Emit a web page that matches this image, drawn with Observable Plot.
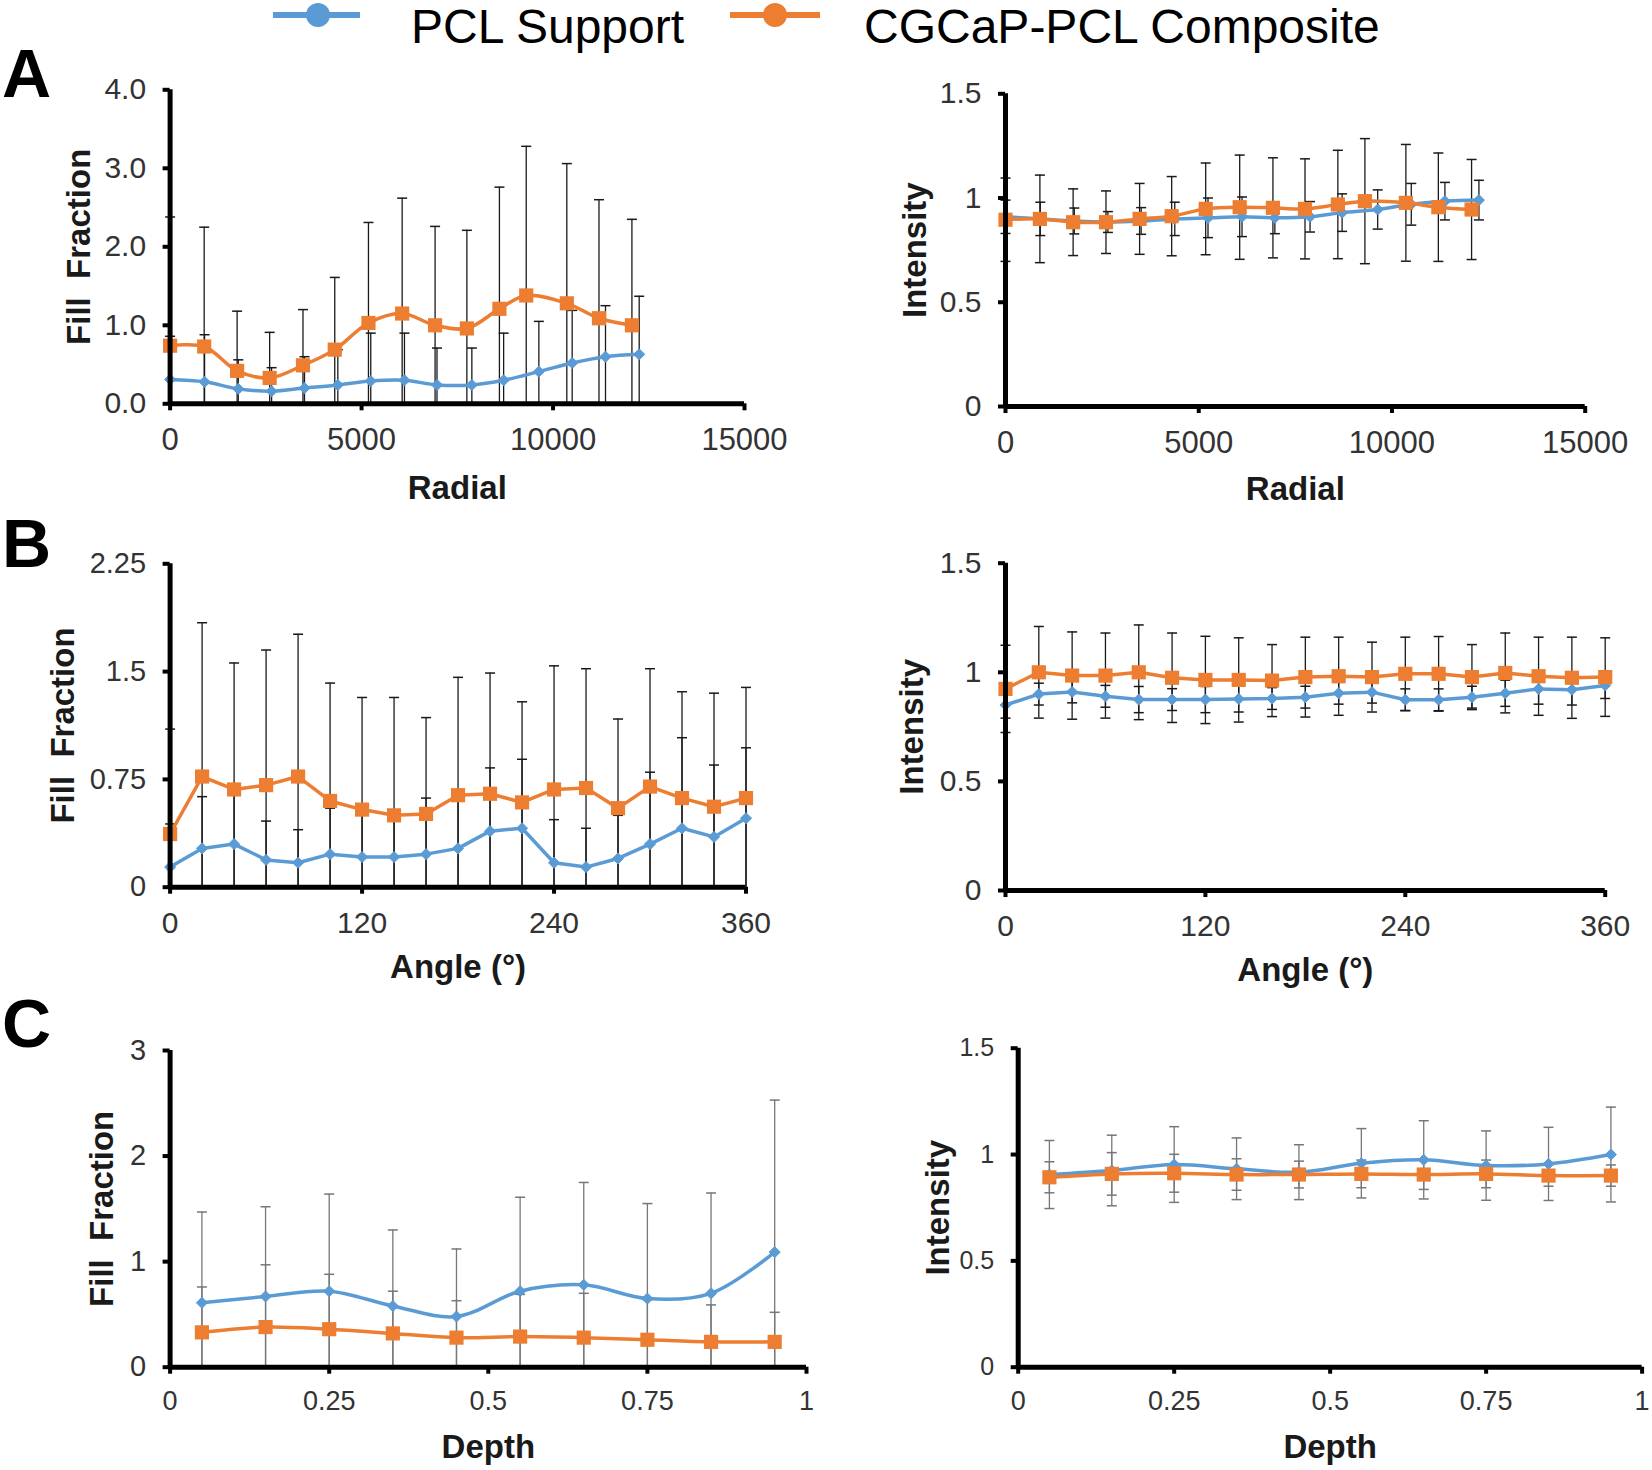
<!DOCTYPE html>
<html>
<head>
<meta charset="utf-8">
<script src="https://cdn.jsdelivr.net/npm/d3@7"></script>
<script src="https://cdn.jsdelivr.net/npm/@observablehq/plot@0.6"></script>
<style>
  html, body { margin: 0; padding: 0; background: #fff; }
  #root { position: relative; width: 1652px; height: 1470px; overflow: hidden; background: #fff;
          font-family: "Liberation Sans", Arial, sans-serif; }
  .panel-label { position: absolute; font-weight: bold; font-size: 68px; line-height: 68px; color: #000; }
  .leg-text { position: absolute; font-size: 48px; line-height: 36px; color: #000; white-space: nowrap; }
  .leg-line { position: absolute; height: 6px; }
  .leg-dot { position: absolute; width: 24px; height: 24px; border-radius: 50%; }
</style>
</head>
<body>
<div id="root"></div>
<script>
// ---------------- DATA ----------------
const seriesNames = ["PCL Support", "CGCaP-PCL Composite"];
const panelLetters = ["A", "B", "C"];

// Panel A : radial position
const radialXBlue   = [0, 900, 1780, 2650, 3510, 4380, 5240, 6120, 6970, 7880, 8710, 9630, 10500, 11370, 12250];
const radialXOrange = [0, 890, 1750, 2600, 3470, 4300, 5180, 6060, 6920, 7750, 8600, 9300, 10360, 11200, 12060];
const radialFillBlue     = [0.31, 0.28, 0.19, 0.16, 0.20, 0.24, 0.29, 0.30, 0.24, 0.24, 0.30, 0.41, 0.52, 0.60, 0.63];
const radialFillBlueSd   = [0.55, 0.60, 0.37, 0.30, 0.40, 0.45, 0.61, 0.60, 0.47, 0.47, 0.60, 0.64, 0.67, 0.65, 0.74];
const radialFillOrange   = [0.74, 0.73, 0.42, 0.33, 0.49, 0.69, 1.03, 1.15, 1.00, 0.96, 1.21, 1.38, 1.28, 1.09, 1.00];
const radialFillOrangeSd = [1.64, 1.52, 0.76, 0.58, 0.71, 0.92, 1.28, 1.47, 1.26, 1.25, 1.55, 1.90, 1.78, 1.51, 1.35];
const radialIntBlue      = [0.91, 0.90, 0.89, 0.885, 0.89, 0.90, 0.905, 0.91, 0.905, 0.91, 0.93, 0.945, 0.97, 0.985, 0.99];
const radialIntBlueSd    = [0.08, 0.08, 0.062, 0.05, 0.064, 0.08, 0.095, 0.095, 0.076, 0.073, 0.09, 0.094, 0.10, 0.09, 0.095];
const radialIntOrange    = [0.896, 0.90, 0.884, 0.884, 0.90, 0.913, 0.948, 0.956, 0.953, 0.948, 0.969, 0.985, 0.977, 0.956, 0.945];
const radialIntOrangeSd  = [0.20, 0.21, 0.16, 0.15, 0.17, 0.19, 0.22, 0.25, 0.24, 0.24, 0.26, 0.30, 0.28, 0.26, 0.24];

// Panel B : angle
const angleDeg = [0, 20, 40, 60, 80, 100, 120, 140, 160, 180, 200, 220, 240, 260, 280, 300, 320, 340, 360];
const angleFillBlue     = [0.14, 0.27, 0.30, 0.19, 0.17, 0.23, 0.21, 0.21, 0.23, 0.27, 0.39, 0.41, 0.17, 0.14, 0.20, 0.30, 0.41, 0.35, 0.48];
const angleFillBlueSd   = [0.30, 0.36, 0.38, 0.27, 0.23, 0.32, 0.30, 0.30, 0.39, 0.35, 0.44, 0.48, 0.30, 0.27, 0.30, 0.50, 0.63, 0.50, 0.49];
const angleFillOrange   = [0.37, 0.77, 0.68, 0.71, 0.77, 0.60, 0.54, 0.50, 0.51, 0.64, 0.65, 0.59, 0.68, 0.69, 0.55, 0.70, 0.62, 0.56, 0.62];
const angleFillOrangeSd = [0.73, 1.07, 0.88, 0.94, 0.99, 0.82, 0.78, 0.82, 0.67, 0.82, 0.84, 0.70, 0.86, 0.83, 0.62, 0.82, 0.74, 0.79, 0.77];
const angleIntBlue      = [0.85, 0.90, 0.91, 0.89, 0.875, 0.875, 0.875, 0.878, 0.88, 0.886, 0.904, 0.909, 0.874, 0.874, 0.886, 0.904, 0.924, 0.92, 0.94];
const angleIntBlueSd    = [0.06, 0.05, 0.05, 0.05, 0.06, 0.05, 0.06, 0.06, 0.05, 0.05, 0.05, 0.05, 0.05, 0.05, 0.05, 0.06, 0.07, 0.07, 0.06];
const angleIntOrange    = [0.924, 1.0, 0.985, 0.985, 1.0, 0.975, 0.965, 0.965, 0.962, 0.978, 0.982, 0.978, 0.993, 0.993, 0.978, 0.997, 0.982, 0.975, 0.978];
const angleIntOrangeSd  = [0.20, 0.21, 0.20, 0.195, 0.217, 0.205, 0.20, 0.193, 0.165, 0.183, 0.179, 0.16, 0.168, 0.171, 0.149, 0.183, 0.179, 0.186, 0.18];

// Panel C : depth
const depthPos = [0.05, 0.15, 0.25, 0.35, 0.45, 0.55, 0.65, 0.75, 0.85, 0.95];
const depthFillBlue     = [0.61, 0.67, 0.72, 0.58, 0.48, 0.72, 0.78, 0.65, 0.70, 1.09];
const depthFillBlueSd   = [0.86, 0.85, 0.92, 0.72, 0.64, 0.89, 0.97, 0.90, 0.95, 1.44];
const depthFillOrange   = [0.33, 0.38, 0.36, 0.32, 0.28, 0.29, 0.28, 0.26, 0.24, 0.24];
const depthFillOrangeSd = [0.43, 0.59, 0.52, 0.40, 0.35, 0.40, 0.42, 0.38, 0.35, 0.28];
const depthIntBlue      = [0.906, 0.925, 0.953, 0.933, 0.917, 0.959, 0.975, 0.948, 0.956, 1.0];
const depthIntBlueSd    = [0.16, 0.166, 0.178, 0.145, 0.129, 0.163, 0.184, 0.163, 0.172, 0.223];
const depthIntOrange    = [0.893, 0.909, 0.912, 0.906, 0.906, 0.909, 0.906, 0.909, 0.901, 0.901];
const depthIntOrangeSd  = [0.073, 0.10, 0.089, 0.074, 0.063, 0.065, 0.07, 0.065, 0.05, 0.05];

// Tick values
const radialTicks = [0, 5000, 10000, 15000];
const angleTicks = [0, 120, 240, 360];
const depthTicks = [0, 0.25, 0.5, 0.75, 1];
const fillTicksA = [0, 1, 2, 3, 4];
const fillTicksB = [0, 0.75, 1.5, 2.25];
const fillTicksC = [0, 1, 2, 3];
const intensityTicks = [0, 0.5, 1, 1.5];

// ---------------- DRAWING ----------------
const BLUE = "#5B9BD5", ORANGE = "#ED7D31";
const root = document.getElementById("root");
const capSymbol = { draw(ctx, size) { const r = Math.sqrt(size / Math.PI); ctx.moveTo(-r, 0); ctx.lineTo(r, 0); } };

function build(xs, ys, sds, yMin) {
  return xs.map((x, i) => ({ x, y: ys[i], lo: Math.max(yMin, ys[i] - sds[i]), hi: ys[i] + sds[i], loCap: ys[i] - sds[i] >= yMin }));
}

function panel(cfg) {
  const ml = 150, mr = 70, mt = 30, mb = 110;
  const left = Math.floor(cfg.x0) - ml;
  const top = Math.floor(cfg.yTop) - mt;
  const width = Math.ceil(cfg.x1 + mr) - left;
  const height = Math.ceil(cfg.yBot + mb) - top;
  const y0 = cfg.yDomain[0];
  const blue = build(cfg.xBlue, cfg.blue, cfg.blueSd, y0);
  const orange = build(cfg.xOrange, cfg.orange, cfg.orangeSd, y0);
  const ec = cfg.errColor;
  const errMarks = (data) => [
    Plot.ruleX(data, { x: "x", y1: "lo", y2: "hi", stroke: ec, strokeWidth: 1.3 }),
    Plot.dot(data, { x: "x", y: "hi", symbol: capSymbol, r: 5, fill: "none", stroke: ec, strokeWidth: 1.5 }),
    Plot.dot(data.filter(d => d.loCap), { x: "x", y: "lo", symbol: capSymbol, r: 5, fill: "none", stroke: ec, strokeWidth: 1.5 })
  ];
  const svg = Plot.plot({
    width, height,
    marginLeft: cfg.x0 - left,
    marginRight: left + width - cfg.x1,
    marginTop: cfg.yTop - top,
    marginBottom: top + height - cfg.yBot,
    style: { fontFamily: '"Liberation Sans", Arial, sans-serif', background: "transparent", overflow: "visible" },
    x: { domain: cfg.xDomain },
    y: { domain: cfg.yDomain },
    marks: [
      ...errMarks(blue),
      ...errMarks(orange),
      Plot.line(blue, { x: "x", y: "y", stroke: BLUE, strokeWidth: 3.5, curve: cfg.curve }),
      Plot.dot(blue, { x: "x", y: "y", symbol: "diamond2", r: 5, fill: BLUE, stroke: BLUE, strokeWidth: 1 }),
      Plot.line(orange, { x: "x", y: "y", stroke: ORANGE, strokeWidth: 3.5, curve: cfg.curve }),
      Plot.dot(orange, { x: "x", y: "y", symbol: "square", r: 8, fill: ORANGE }),
      Plot.ruleX([cfg.xDomain[0]], { stroke: "#000", strokeWidth: 5 }),
      Plot.ruleY([cfg.yDomain[0]], { stroke: "#000", strokeWidth: 5 }),
      Plot.axisX({ ticks: cfg.xTicks, tickFormat: d => String(d), tickSize: 7, tickPadding: 17, strokeWidth: 4,
                   stroke: "#000", fill: "#333", fontSize: cfg.xFont, label: null }),
      Plot.axisY({ ticks: cfg.yTicks, tickFormat: cfg.yFmt, tickSize: 7, tickPadding: 17, strokeWidth: 4,
                   stroke: "#000", fill: "#333", fontSize: cfg.yFont, label: null }),
      Plot.text([cfg.yLabel], { text: d => d, frameAnchor: "left", textAnchor: "middle", lineAnchor: "middle",
                   dx: -cfg.yTitleOff, rotate: -90, fontSize: 33, fontWeight: "bold", fill: "#1a1a1a" }),
      Plot.text([cfg.xLabel], { text: d => d, frameAnchor: "bottom", textAnchor: "middle", lineAnchor: "middle",
                   dy: cfg.xTitleOff, fontSize: 33, fontWeight: "bold", fill: "#1a1a1a" })
    ]
  });
  svg.style.position = "absolute";
  svg.style.left = left + "px";
  svg.style.top = top + "px";
  root.appendChild(svg);
}

const fmt1 = d3.format(".1f");
const plain = d => String(d);

panel({ x0: 169.6, x1: 744, yTop: 89.3, yBot: 403.3, xDomain: [0, 15000], yDomain: [0, 4],
  xTicks: radialTicks, yTicks: fillTicksA, yFmt: fmt1, xFont: 31, yFont: 30,
  xLabel: "Radial", yLabel: "Fill  Fraction", yTitleOff: 91, xTitleOff: 85, curve: "catmull-rom", errColor: "#1a1a1a",
  xBlue: radialXBlue, blue: radialFillBlue, blueSd: radialFillBlueSd,
  xOrange: radialXOrange, orange: radialFillOrange, orangeSd: radialFillOrangeSd });

panel({ x0: 1005, x1: 1584.7, yTop: 93.3, yBot: 406, xDomain: [0, 15000], yDomain: [0, 1.5],
  xTicks: radialTicks, yTicks: intensityTicks, yFmt: plain, xFont: 31, yFont: 30,
  xLabel: "Radial", yLabel: "Intensity", yTitleOff: 90, xTitleOff: 83, curve: "catmull-rom", errColor: "#1a1a1a",
  xBlue: radialXBlue, blue: radialIntBlue, blueSd: radialIntBlueSd,
  xOrange: radialXOrange, orange: radialIntOrange, orangeSd: radialIntOrangeSd });

panel({ x0: 169.6, x1: 745.5, yTop: 563.3, yBot: 886.7, xDomain: [0, 360], yDomain: [0, 2.25],
  xTicks: angleTicks, yTicks: fillTicksB, yFmt: plain, xFont: 30, yFont: 29,
  xLabel: "Angle (°)", yLabel: "Fill  Fraction", yTitleOff: 107, xTitleOff: 80, curve: "linear", errColor: "#1a1a1a",
  xBlue: angleDeg, blue: angleFillBlue, blueSd: angleFillBlueSd,
  xOrange: angleDeg, orange: angleFillOrange, orangeSd: angleFillOrangeSd });

panel({ x0: 1005, x1: 1604.7, yTop: 562.7, yBot: 890, xDomain: [0, 360], yDomain: [0, 1.5],
  xTicks: angleTicks, yTicks: intensityTicks, yFmt: plain, xFont: 30, yFont: 30,
  xLabel: "Angle (°)", yLabel: "Intensity", yTitleOff: 93, xTitleOff: 80, curve: "linear", errColor: "#1a1a1a",
  xBlue: angleDeg, blue: angleIntBlue, blueSd: angleIntBlueSd,
  xOrange: angleDeg, orange: angleIntOrange, orangeSd: angleIntOrangeSd });

panel({ x0: 169.6, x1: 806, yTop: 1050, yBot: 1366.7, xDomain: [0, 1], yDomain: [0, 3],
  xTicks: depthTicks, yTicks: fillTicksC, yFmt: plain, xFont: 27, yFont: 29,
  xLabel: "Depth", yLabel: "Fill  Fraction", yTitleOff: 68, xTitleOff: 80, curve: "catmull-rom", errColor: "#777",
  xBlue: depthPos, blue: depthFillBlue, blueSd: depthFillBlueSd,
  xOrange: depthPos, orange: depthFillOrange, orangeSd: depthFillOrangeSd });

panel({ x0: 1017.7, x1: 1641.6, yTop: 1047.7, yBot: 1366.7, xDomain: [0, 1], yDomain: [0, 1.5],
  xTicks: depthTicks, yTicks: intensityTicks, yFmt: plain, xFont: 27, yFont: 25,
  xLabel: "Depth", yLabel: "Intensity", yTitleOff: 80, xTitleOff: 80, curve: "catmull-rom", errColor: "#777",
  xBlue: depthPos, blue: depthIntBlue, blueSd: depthIntBlueSd,
  xOrange: depthPos, orange: depthIntOrange, orangeSd: depthIntOrangeSd });

// Panel letters
const letterTops = [39, 509, 989];
panelLetters.forEach((t, i) => {
  const d = document.createElement("div");
  d.className = "panel-label";
  d.textContent = t;
  d.style.left = "2px";
  d.style.top = letterTops[i] + "px";
  root.appendChild(d);
});

// Legend
const legend = [
  { color: BLUE, x1: 273, x2: 360, cx: 318, tx: 411 },
  { color: ORANGE, x1: 730, x2: 820, cx: 775, tx: 864 }
];
legend.forEach((l, i) => {
  const line = document.createElement("div");
  line.className = "leg-line";
  line.style.background = l.color;
  line.style.left = l.x1 + "px";
  line.style.width = (l.x2 - l.x1) + "px";
  line.style.top = (15 - 3) + "px";
  root.appendChild(line);
  const dot = document.createElement("div");
  dot.className = "leg-dot";
  dot.style.background = l.color;
  dot.style.left = (l.cx - 12) + "px";
  dot.style.top = (15 - 12) + "px";
  root.appendChild(dot);
  const txt = document.createElement("div");
  txt.className = "leg-text";
  txt.textContent = seriesNames[i];
  txt.style.left = l.tx + "px";
  txt.style.top = "9px";
  root.appendChild(txt);
});
</script>
</body>
</html>
